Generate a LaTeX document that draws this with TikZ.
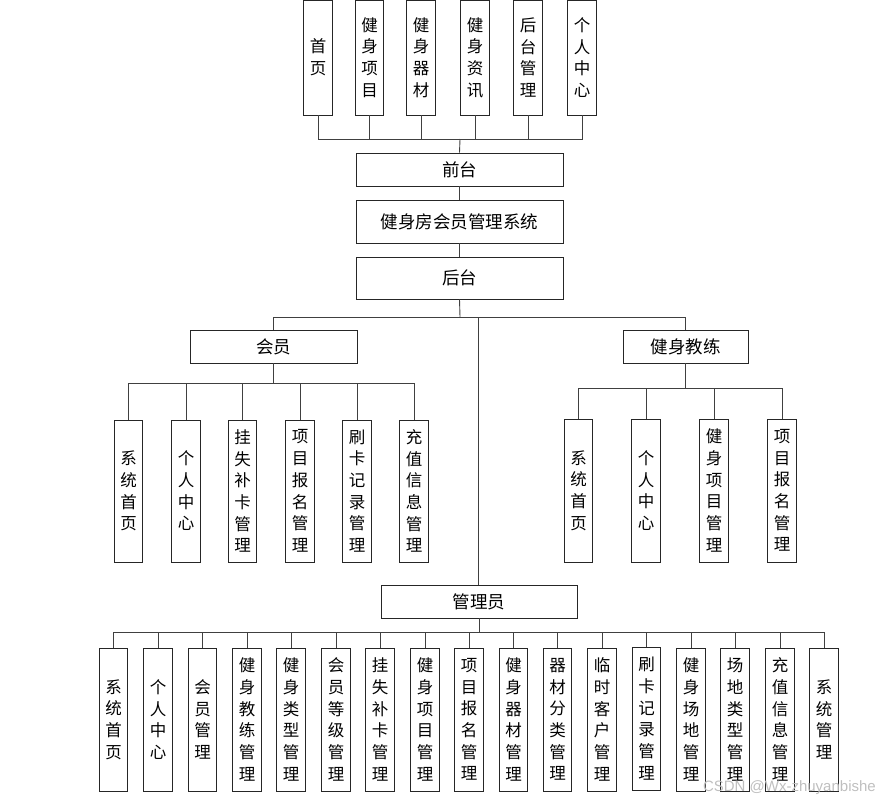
\documentclass[tikz,border=0pt]{standalone}
\usepackage{fontspec}
\newfontfamily\cjk{Noto Sans CJK SC}
\newfontfamily\wm{Liberation Sans}
\begin{document}
\begin{tikzpicture}[x=1pt,y=-1pt,
  box/.style={draw=black!85,line width=0.9pt,inner sep=0pt,font=\cjk\fontsize{16.5}{21.7}\selectfont,align=center},
  vbox/.style={box,minimum width=28.5pt,minimum height=#1},
  hbox/.style 2 args={box,minimum width=#1,minimum height=#2,font=\cjk\fontsize{17.5}{21}\selectfont},
  conn/.style={draw=black!75,line width=0.9pt}]
\useasboundingbox (0,0) rectangle (877,803);
% top row
\node[vbox=115pt] (t1) at (318,57.5) {首\\页};
\node[vbox=115pt] (t2) at (369.5,57.5) {健\\身\\项\\目};
\node[vbox=115pt] (t3) at (421,57.5) {健\\身\\器\\材};
\node[vbox=115pt] (t4) at (475,57.5) {健\\身\\资\\讯};
\node[vbox=115pt] (t5) at (528,57.5) {后\\台\\管\\理};
\node[vbox=115pt] (t6) at (582,57.5) {个\\人\\中\\心};
\coordinate (fb) at (460,139);
\node[hbox={207pt}{33pt}] (qt) at (459.5,169.5) {前台};
\node[hbox={207pt}{43pt}] (sys) at (459.5,221.5) {健身房会员管理系统};
\node[hbox={207pt}{42pt}] (ht) at (459.5,278) {后台};
\coordinate (hb) at (460,317);
\node[hbox={167pt}{33pt}] (hy) at (273.5,346.5) {会员};
\node[hbox={125pt}{33pt}] (jl) at (685.5,346.5) {健身教练};
\node[hbox={196pt}{33pt}] (gly) at (479,601.5) {管理员};
% member children
\coordinate (hyb) at (273.5,383);
\node[vbox=142pt] (m1) at (128.5,491) {系\\统\\首\\页};
\node[vbox=142pt] (m2) at (186,491) {个\\人\\中\\心};
\node[vbox=142pt] (m3) at (242.5,491) {挂\\失\\补\\卡\\管\\理};
\node[vbox=142pt] (m4) at (300,491) {项\\目\\报\\名\\管\\理};
\node[vbox=142pt] (m5) at (357,491) {刷\\卡\\记\\录\\管\\理};
\node[vbox=142pt] (m6) at (414,491) {充\\值\\信\\息\\管\\理};
% coach children
\coordinate (jlb) at (685.5,388);
\node[vbox=143pt] (c1) at (578.5,490.5) {系\\统\\首\\页};
\node[vbox=143pt] (c2) at (646,490.5) {个\\人\\中\\心};
\node[vbox=143pt] (c3) at (714,490.5) {健\\身\\项\\目\\管\\理};
\node[vbox=143pt] (c4) at (782,490.5) {项\\目\\报\\名\\管\\理};
% admin children
\coordinate (gb) at (479,632);
\node[vbox=143pt] (a1) at (113.5,719.5) {系\\统\\首\\页};
\node[vbox=143pt] (a2) at (158,719.5) {个\\人\\中\\心};
\node[vbox=143pt] (a3) at (202.5,719.5) {会\\员\\管\\理};
\node[vbox=143pt] (a4) at (247,719.5) {健\\身\\教\\练\\管\\理};
\node[vbox=143pt] (a5) at (291,719.5) {健\\身\\类\\型\\管\\理};
\node[vbox=143pt] (a6) at (336,719.5) {会\\员\\等\\级\\管\\理};
\node[vbox=143pt] (a7) at (380,719.5) {挂\\失\\补\\卡\\管\\理};
\node[vbox=143pt] (a8) at (425,719.5) {健\\身\\项\\目\\管\\理};
\node[vbox=143pt] (a9) at (469,719.5) {项\\目\\报\\名\\管\\理};
\node[vbox=143pt] (a10) at (513.5,719.5) {健\\身\\器\\材\\管\\理};
\node[vbox=143pt] (a11) at (557.5,719.5) {器\\材\\分\\类\\管\\理};
\node[vbox=143pt] (a12) at (602,719.5) {临\\时\\客\\户\\管\\理};
\node[vbox=143pt] (a13) at (646.5,718.5) {刷\\卡\\记\\录\\管\\理};
\node[vbox=143pt] (a14) at (691,719.5) {健\\身\\场\\地\\管\\理};
\node[vbox=143pt] (a15) at (735,719.5) {场\\地\\类\\型\\管\\理};
\node[vbox=143pt] (a16) at (780,719.5) {充\\值\\信\\息\\管\\理};
\node[vbox=143pt] (a17) at (824,719.5) {系\\统\\管\\理};
% connectors
\foreach \n in {t1,t2,t3,t4,t5,t6} \draw[conn] (\n.south) |- (fb);
\draw[conn] (fb) -- (qt.north);
\draw[conn] (qt.south) -- (sys.north);
\draw[conn] (sys.south) -- (ht.north);
\draw[conn] (ht.south) -- (hb);
\draw[conn] (hy.north) |- (hb);
\draw[conn] (jl.north) |- (hb);
\draw[conn] (gly.north -| 478,0) -- (478,317);
\draw[conn] (hy.south) -- (hyb);
\foreach \n in {m1,m2,m3,m4,m5,m6} \draw[conn] (\n.north) |- (hyb);
\draw[conn] (jl.south) -- (jlb);
\foreach \n in {c1,c2,c3,c4} \draw[conn] (\n.north) |- (jlb);
\draw[conn] (gly.south) -- (gb);
\foreach \n in {a1,a2,a3,a4,a5,a6,a7,a8,a9,a10,a11,a12,a13,a14,a15,a16,a17} \draw[conn] (\n.north) |- (gb);
\node[anchor=east,inner sep=0pt,text=black!25,font=\wm\fontsize{15}{15}\selectfont] (wmk) at (876,788) {CSDN @Wx-zhuyanbishe};
\end{tikzpicture}
\end{document}
